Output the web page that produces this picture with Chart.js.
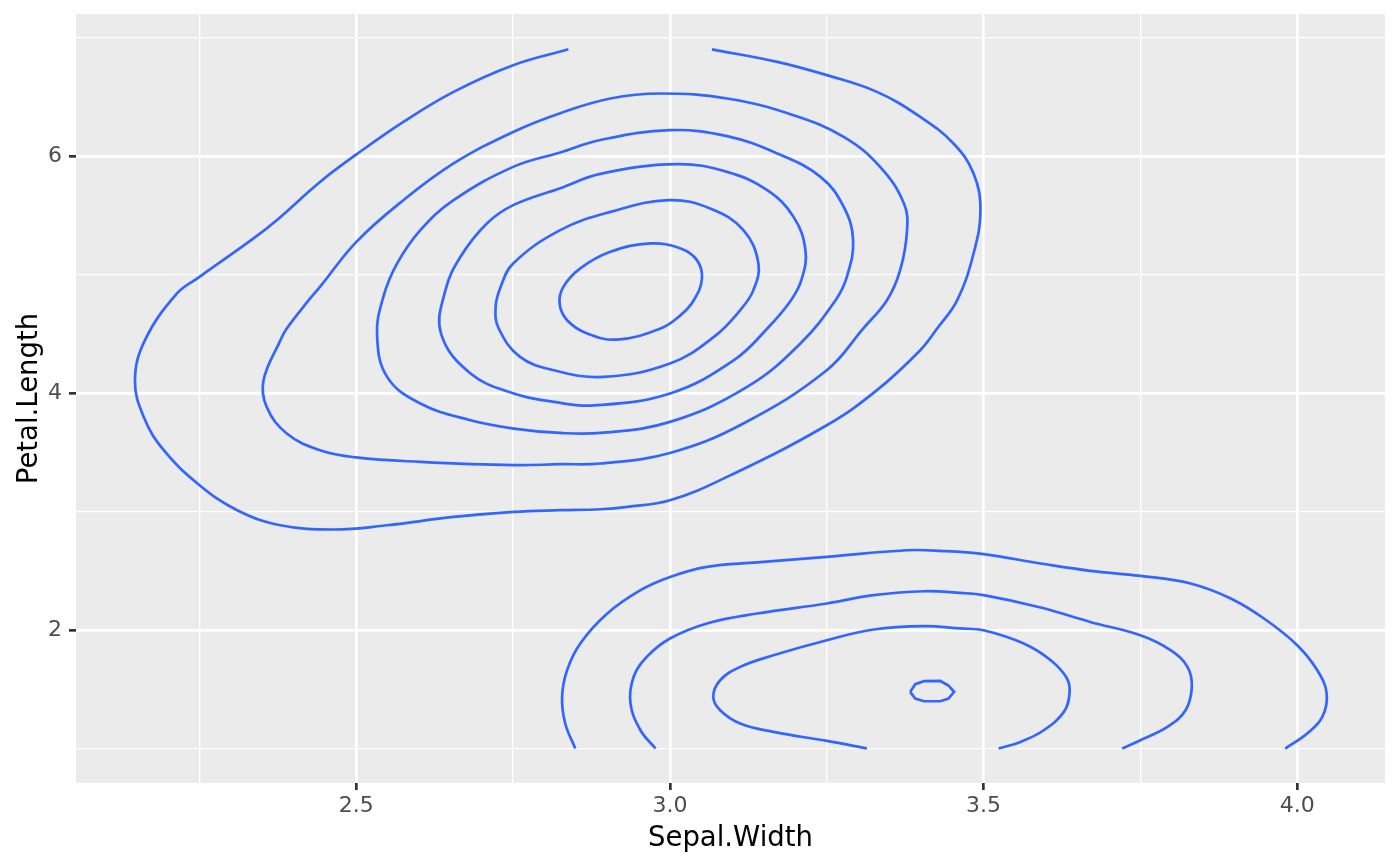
<!DOCTYPE html>
<html>
<head>
<meta charset="utf-8">
<title>Sepal.Width vs Petal.Length density</title>
<script src="https://cdn.jsdelivr.net/npm/chart.js@4.4.1/dist/chart.umd.min.js"></script>
<style>
  html, body { margin: 0; padding: 0; background: #ffffff; }
  #chart { display: block; }
</style>
</head>
<body>
<canvas id="chart" width="1400" height="866"></canvas>
<script>
// axis ticks
var xMajor = [2.5, 3.0, 3.5, 4.0];
var xMinor = [2.25, 2.75, 3.25, 3.75];
var xLabels = ['2.5', '3.0', '3.5', '4.0'];
var yMajor = [2, 4, 6];
var yMinor = [1, 3, 5, 7];
var yLabels = ['2', '4', '6'];
var xRange = [2.053, 4.140];
var yRange = [0.709, 7.198];

// density contours, [Sepal.Width, Petal.Length]
// upper cluster (versicolor / virginica), outer to inner
var upper1 = [[2.838, 6.9], [2.750, 6.766], [2.655, 6.541], [2.575, 6.288], [2.500, 6.013], [2.442, 5.781],
    [2.373, 5.458], [2.336, 5.304], [2.250, 4.980], [2.214, 4.840], [2.163, 4.446],
    [2.147, 4.108], [2.161, 3.798], [2.193, 3.517], [2.250, 3.222], [2.310, 3.011], [2.379, 2.884],
    [2.464, 2.848], [2.549, 2.884], [2.655, 2.954], [2.751, 2.997], [2.825, 3.011], [2.889, 3.019],
    [2.932, 3.039], [3.000, 3.095], [3.091, 3.292], [3.250, 3.728], [3.330, 4.024], [3.399, 4.361],
    [3.426, 4.544], [3.458, 4.783], [3.484, 5.177], [3.495, 5.543], [3.484, 5.852],
    [3.452, 6.105], [3.399, 6.330], [3.330, 6.541], [3.250, 6.682], [3.171, 6.794], [3.067, 6.9]];
var upper2 = [[2.985, 6.527], [2.905, 6.485], [2.825, 6.361], [2.750, 6.203], [2.655, 5.937], [2.575, 5.627],
    [2.500, 5.275], [2.442, 4.895], [2.424, 4.783], [2.389, 4.544], [2.379, 4.446], [2.352, 4.108],
    [2.357, 3.883], [2.389, 3.658], [2.442, 3.517], [2.500, 3.456], [2.602, 3.419], [2.751, 3.391],
    [2.825, 3.399], [2.889, 3.405], [3.000, 3.494], [3.117, 3.743], [3.250, 4.192], [3.308, 4.544],
    [3.346, 4.783], [3.367, 5.036], [3.378, 5.374], [3.373, 5.599], [3.335, 5.908], [3.277, 6.161],
    [3.197, 6.344], [3.091, 6.485], [2.985, 6.527]];
var upper3 = [[3.000, 6.218], [2.889, 6.135], [2.825, 6.030], [2.750, 5.908], [2.655, 5.627], [2.602, 5.374],
    [2.565, 5.093], [2.543, 4.811], [2.533, 4.490], [2.549, 4.136], [2.602, 3.911],
    [2.682, 3.770], [2.751, 3.700], [2.825, 3.663], [2.889, 3.663], [3.000, 3.756], [3.123, 4.051],
    [3.208, 4.418], [3.264, 4.783], [3.282, 4.980], [3.292, 5.289], [3.277, 5.570], [3.240, 5.824],
    [3.171, 6.021], [3.091, 6.167], [3.000, 6.218]];
var upper4 = [[3.011, 5.931], [2.889, 5.849], [2.825, 5.728], [2.750, 5.585], [2.708, 5.430], [2.666, 5.149],
    [2.642, 4.868], [2.635, 4.500], [2.682, 4.165], [2.751, 3.996], [2.815, 3.925],
    [2.878, 3.895], [3.000, 3.996], [3.102, 4.277], [3.157, 4.555], [3.193, 4.783], [3.210, 4.960],
    [3.216, 5.205], [3.197, 5.486], [3.155, 5.711], [3.091, 5.866], [3.011, 5.931]];
var upper5 = [[2.998, 5.627], [2.905, 5.528], [2.825, 5.374], [2.750, 5.093], [2.730, 4.895], [2.722, 4.727],
    [2.727, 4.544], [2.761, 4.305], [2.815, 4.192], [2.894, 4.136], [3.000, 4.249], [3.070, 4.473],
    [3.112, 4.699], [3.133, 4.868], [3.141, 5.093], [3.117, 5.374], [3.064, 5.557], [2.998, 5.627]];
var upper6 = [[2.969, 5.262], [2.905, 5.191], [2.857, 5.051], [2.830, 4.895], [2.824, 4.755], [2.836, 4.614],
    [2.868, 4.502], [2.916, 4.451], [2.985, 4.544], [3.017, 4.657], [3.038, 4.783], [3.051, 4.966],
    [3.043, 5.121], [3.017, 5.219], [2.969, 5.262]];
// lower cluster (setosa), outer to inner
var lower1 = [[2.849, 1.0], [2.833, 1.211], [2.828, 1.436], [2.836, 1.661], [2.857, 1.886], [2.900, 2.139],
    [2.953, 2.336], [3.000, 2.448], [3.059, 2.533], [3.139, 2.570], [3.250, 2.617], [3.378, 2.673],
    [3.431, 2.668], [3.500, 2.640], [3.591, 2.561], [3.670, 2.499], [3.750, 2.457], [3.830, 2.392],
    [3.894, 2.266], [3.947, 2.097], [4.000, 1.872], [4.032, 1.661], [4.047, 1.464], [4.040, 1.267],
    [4.016, 1.127], [3.981, 1.0]];
var lower2 = [[2.977, 1.0], [2.953, 1.154], [2.937, 1.380], [2.942, 1.604], [2.963, 1.773], [3.000, 1.928],
    [3.059, 2.055], [3.139, 2.139], [3.250, 2.224], [3.325, 2.294], [3.405, 2.327], [3.463, 2.313],
    [3.500, 2.294], [3.591, 2.190], [3.670, 2.068], [3.750, 1.956], [3.798, 1.830], [3.825, 1.689],
    [3.832, 1.520], [3.822, 1.323], [3.793, 1.182], [3.750, 1.070], [3.721, 1.0]];
var lower3 = [[3.314, 1.0], [3.250, 1.064], [3.165, 1.140], [3.112, 1.211], [3.080, 1.323], [3.069, 1.436],
    [3.080, 1.576], [3.112, 1.689], [3.165, 1.787], [3.250, 1.914], [3.325, 2.004], [3.405, 2.032],
    [3.463, 2.013], [3.500, 1.998], [3.564, 1.886], [3.607, 1.745], [3.633, 1.591], [3.637, 1.464],
    [3.628, 1.309], [3.596, 1.154], [3.559, 1.056], [3.524, 1.0]];
var lower4 = [[3.383, 1.478], [3.391, 1.543], [3.405, 1.568], [3.431, 1.570], [3.444, 1.532], [3.453, 1.478],
    [3.444, 1.422], [3.431, 1.399], [3.405, 1.399], [3.391, 1.422], [3.383, 1.478]];

var openLines = [upper1, lower1, lower2, lower3];
var closedLines = [upper2, upper3, upper4, upper5, upper6];
var lineColor = '#3366FF';
var clear = 'rgba(0,0,0,0)';

function isMajor(list, v) {
    for (var i = 0; i < list.length; i++) {
        if (Math.abs(list[i] - v) < 1e-6) return true;
    }
    return false;
}

function tickSet(major, minor) {
    return major.concat(minor).sort(function (a, b) { return a - b; }).map(function (v) { return { value: v }; });
}

function toXY(c) {
    return c.map(function (p) { return { x: p[0], y: p[1] }; });
}

function lineSet(c, tension) {
    return {
        data: toXY(c),
        showLine: true,
        borderColor: lineColor,
        borderWidth: 2.7,
        pointRadius: 0,
        fill: false,
        tension: tension
    };
}

// closed rings: wrap one point on each side so the spline has no corner at the seam,
// and hide the two wrapped segments
function ringSet(c) {
    var n = c.length;
    var wrapped = [c[n - 2]].concat(c, [c[1]]);
    var last = wrapped.length - 1;
    var ds = lineSet(wrapped, 0.4);
    ds.segment = {
        borderColor: function (ctx) {
            return (ctx.p0DataIndex === 0 || ctx.p1DataIndex === last) ? clear : lineColor;
        }
    };
    return ds;
}

var datasets = openLines.map(function (c) { return lineSet(c, 0.4); })
    .concat(closedLines.map(ringSet))
    .concat([lineSet(lower4, 0)]);

// grey panel behind the grid
var panelBg = {
    id: 'panelBg',
    beforeDraw: function (chart) {
        var a = chart.chartArea;
        var ctx = chart.ctx;
        ctx.save();
        ctx.fillStyle = '#EBEBEB';
        ctx.fillRect(a.left, a.top, a.right - a.left, a.bottom - a.top);
        ctx.restore();
    }
};

Chart.defaults.font.family = 'DejaVu Sans';

new Chart(document.getElementById('chart').getContext('2d'), {
    type: 'scatter',
    data: { datasets: datasets },
    plugins: [panelBg],
    options: {
        responsive: false,
        devicePixelRatio: 1,
        animation: false,
        layout: { padding: { top: 14, right: 15, left: 0, bottom: 0 } },
        plugins: { legend: { display: false }, tooltip: { enabled: false } },
        scales: {
            x: {
                type: 'linear',
                min: xRange[0],
                max: xRange[1],
                afterBuildTicks: function (scale) { scale.ticks = tickSet(xMajor, xMinor); },
                afterFit: function (scale) {
                    scale.height = 83;
                    scale.paddingLeft = 0;
                    scale.paddingRight = 0;
                },
                border: { display: false },
                grid: {
                    color: '#FFFFFF',
                    lineWidth: function (c) { return isMajor(xMajor, c.tick.value) ? 2.7 : 1.35; },
                    tickColor: function (c) { return isMajor(xMajor, c.tick.value) ? '#333333' : clear; },
                    tickWidth: 2.7,
                    tickLength: 7
                },
                ticks: {
                    autoSkip: false,
                    maxRotation: 0,
                    padding: 3,
                    color: '#4D4D4D',
                    font: { size: 22 },
                    callback: function (v) {
                        var i = xMajor.findIndex(function (m) { return Math.abs(m - v) < 1e-6; });
                        return i < 0 ? '' : xLabels[i];
                    }
                },
                title: {
                    display: true,
                    text: 'Sepal.Width',
                    color: '#000000',
                    font: { size: 27.5 },
                    padding: { top: 0, bottom: 10.5 }
                }
            },
            y: {
                type: 'linear',
                min: yRange[0],
                max: yRange[1],
                afterBuildTicks: function (scale) { scale.ticks = tickSet(yMajor, yMinor); },
                afterFit: function (scale) {
                    scale.width = 76;
                    scale.paddingTop = 0;
                    scale.paddingBottom = 0;
                },
                border: { display: false },
                grid: {
                    color: '#FFFFFF',
                    lineWidth: function (c) { return isMajor(yMajor, c.tick.value) ? 2.7 : 1.35; },
                    tickColor: function (c) { return isMajor(yMajor, c.tick.value) ? '#333333' : clear; },
                    tickWidth: 2.7,
                    tickLength: 7
                },
                ticks: {
                    autoSkip: false,
                    padding: 7,
                    color: '#4D4D4D',
                    font: { size: 22 },
                    callback: function (v) {
                        var i = yMajor.findIndex(function (m) { return Math.abs(m - v) < 1e-6; });
                        return i < 0 ? '' : yLabels[i];
                    }
                },
                title: {
                    display: true,
                    text: 'Petal.Length',
                    color: '#000000',
                    font: { size: 27.5 },
                    padding: { top: 13.5, bottom: 0 }
                }
            }
        }
    }
});
</script>
</body>
</html>
